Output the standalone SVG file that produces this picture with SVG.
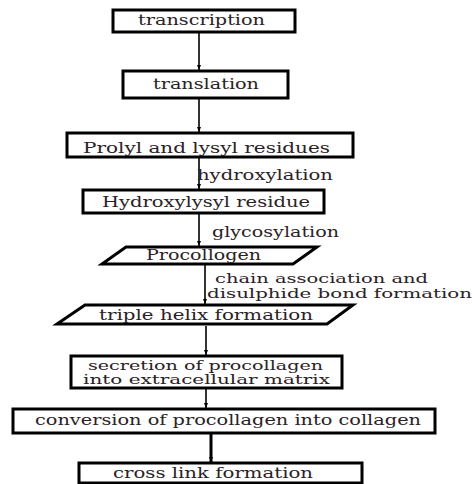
<svg xmlns="http://www.w3.org/2000/svg" width="472" height="484" viewBox="0 0 472 484">
<style>
.box{fill:#fff;stroke:#000;stroke-width:3}
.t{font-family:"DejaVu Serif","Liberation Serif",serif;font-size:14.5px;fill:#2a2226}
.s{font-size:12.5px}
.c{stroke:#000;stroke-width:1.6;fill:none;marker-end:url(#ah)}
</style>
<defs>
<marker id="ah" markerWidth="6" markerHeight="6" refX="5" refY="3" orient="auto" markerUnits="userSpaceOnUse">
<path d="M0,1 L5,3 L0,5 z" fill="#000"/>
</marker>
</defs>
<rect width="472" height="484" fill="#fff"/>
<g id="connectors">
<line class="c" x1="199" y1="33" x2="199" y2="70"/>
<line class="c" x1="199" y1="99" x2="199" y2="132"/>
<line class="c" x1="199" y1="158" x2="199" y2="189"/>
<line class="c" x1="199" y1="214" x2="199" y2="246"/>
<line class="c" x1="205" y1="265" x2="205" y2="304"/>
<line class="c" x1="206" y1="326" x2="206" y2="355"/>
<line class="c" x1="206" y1="383" x2="206" y2="408"/>
<line class="c" x1="211" y1="434" x2="211" y2="462" style="stroke-width:3"/>
<text class="t" x="197" y="180" textLength="136" lengthAdjust="spacingAndGlyphs">hydroxylation</text>
<text class="t" x="212" y="237" textLength="127" lengthAdjust="spacingAndGlyphs">glycosylation</text>
<text class="t" x="215" y="283" textLength="213" lengthAdjust="spacingAndGlyphs" style="font-size:12px">chain association and</text>
<text class="t" x="207" y="298" textLength="265" lengthAdjust="spacingAndGlyphs" style="font-size:12px">disulphide bond formation</text>
</g>
<g id="n1"><rect class="box" x="113" y="10" width="182" height="22"/>
<text class="t" x="138" y="25" textLength="127" lengthAdjust="spacingAndGlyphs">transcription</text></g>
<g id="n2"><rect class="box" x="123" y="71" width="165" height="27"/>
<text class="t" x="153" y="89" textLength="106" lengthAdjust="spacingAndGlyphs">translation</text></g>
<g id="n3"><rect class="box" x="67" y="133" width="286" height="24"/>
<text class="t" x="83" y="153" textLength="247" lengthAdjust="spacingAndGlyphs">Prolyl and lysyl residues</text></g>
<g id="n4"><rect class="box" x="83" y="190" width="241" height="23"/>
<text class="t" x="102" y="207" textLength="208" lengthAdjust="spacingAndGlyphs">Hydroxylysyl residue</text></g>
<g id="n5"><polygon class="box" points="126,247 317,247 293,264 102,264"/>
<text class="t" x="146" y="260" textLength="115" lengthAdjust="spacingAndGlyphs">Procollogen</text></g>
<g id="n6"><polygon class="box" points="85,305 353,305 327,324 57,324"/>
<text class="t" x="99" y="320" textLength="214" lengthAdjust="spacingAndGlyphs">triple helix formation</text></g>
<g id="n7"><rect class="box" x="71" y="356" width="271" height="32"/>
<text class="t s" x="88" y="370" textLength="235" lengthAdjust="spacingAndGlyphs">secretion of procollagen</text>
<text class="t s" x="83" y="384" textLength="247" lengthAdjust="spacingAndGlyphs">into extracellular matrix</text></g>
<g id="n8"><rect class="box" x="13" y="409" width="422" height="24"/>
<text class="t" x="35" y="425" textLength="386" lengthAdjust="spacingAndGlyphs">conversion of procollagen into collagen</text></g>
<g id="n9"><rect class="box" x="79" y="463" width="283" height="20"/>
<text class="t" x="113" y="478" textLength="200" lengthAdjust="spacingAndGlyphs">cross link formation</text></g>
</svg>
